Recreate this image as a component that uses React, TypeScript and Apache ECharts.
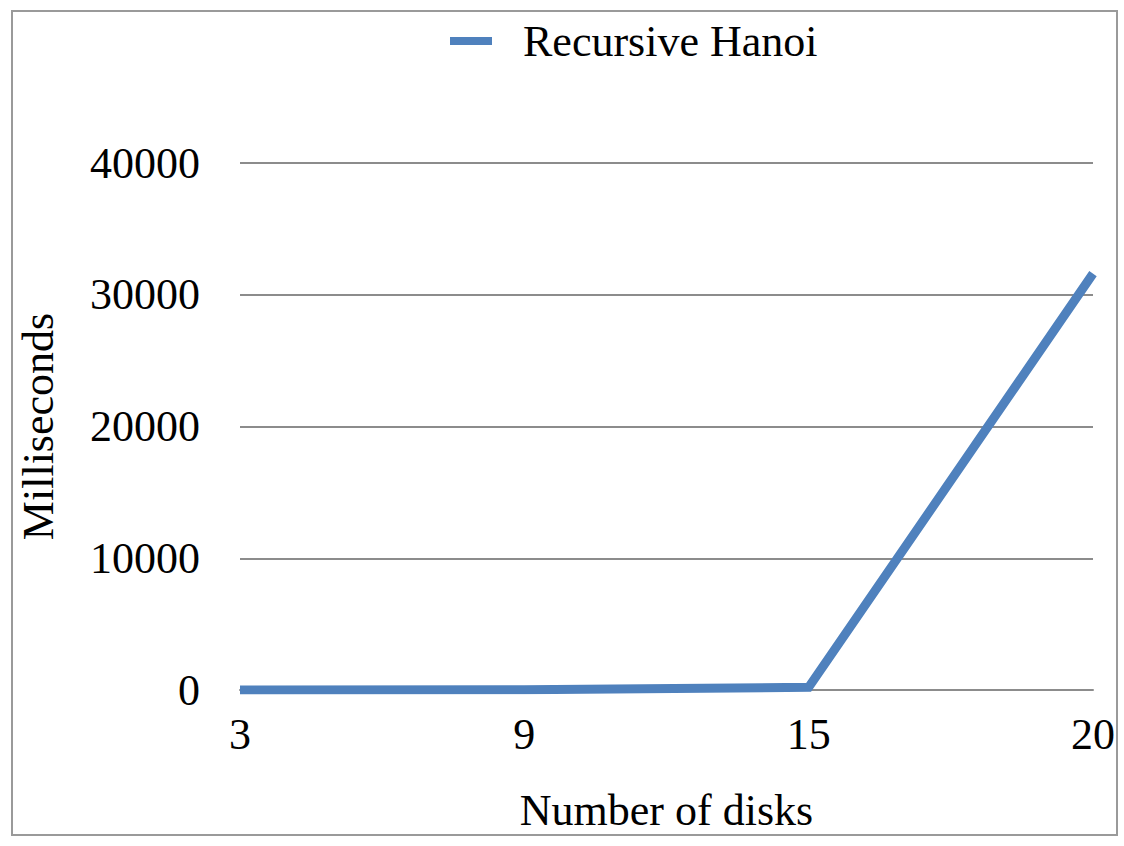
import React, { useEffect, useRef } from "react";
import * as echarts from "echarts";

const categories = ["3", "9", "15", "20"];
const hanoiMs = [5, 15, 200, 31600];
const seriesName = "Recursive Hanoi";
const yTicks = { min: 0, max: 40000, interval: 10000 };

const FONT = "'Liberation Serif', 'Times New Roman', serif";

export default function App() {
  const ref = useRef<HTMLDivElement>(null);
  useEffect(() => {
    if (!ref.current) return;
    const chart = echarts.init(ref.current, undefined, { renderer: "svg" });
    chart.setOption({
      animation: false,
      backgroundColor: "#ffffff",
      graphic: [
        {
          type: "rect",
          shape: { x: 12, y: 11, width: 1105, height: 824 },
          style: { fill: "none", stroke: "#9a9a9a", lineWidth: 2 },
          silent: true,
        },
      ],
      legend: {
        left: 445,
        top: 14,
        icon: "rect",
        itemWidth: 42,
        itemHeight: 8,
        data: [seriesName],
        textStyle: {
          fontFamily: FONT,
          fontSize: 44,
          color: "#000",
          padding: [0, 0, 0, 26],
        },
      },
      grid: { left: 240, right: 31, top: 163, bottom: 156, containLabel: false },
      xAxis: {
        type: "category",
        data: categories,
        boundaryGap: false,
        name: "Number of disks",
        nameLocation: "middle",
        nameGap: 98,
        nameTextStyle: { fontFamily: FONT, fontSize: 44, color: "#000" },
        axisLine: { show: true, lineStyle: { color: "#8c8c8c", width: 2 } },
        axisTick: { show: false },
        axisLabel: { fontFamily: FONT, fontSize: 44, color: "#000", margin: 22 },
        splitLine: { show: false },
      },
      yAxis: {
        type: "value",
        min: yTicks.min,
        max: yTicks.max,
        interval: yTicks.interval,
        name: "Milliseconds",
        nameLocation: "middle",
        nameGap: 180,
        nameTextStyle: { fontFamily: FONT, fontSize: 44, color: "#000" },
        axisLine: { show: false },
        axisTick: { show: false },
        axisLabel: {
          fontFamily: FONT,
          fontSize: 44,
          color: "#000",
          margin: 40,
          formatter: (v: number) => String(v),
        },
        splitLine: { show: true, lineStyle: { color: "#8c8c8c", width: 2 } },
      },
      series: [
        {
          name: seriesName,
          type: "line",
          data: hanoiMs,
          symbol: "none",
          color: "#4f81bd",
          lineStyle: { color: "#4f81bd", width: 9, cap: "butt", join: "miter" },
        },
      ],
    });
    return () => chart.dispose();
  }, []);
  return (
    <div
      ref={ref}
      style={{ position: "fixed", left: 0, top: 0, width: 1124, height: 846, background: "#fff" }}
    />
  );
}
